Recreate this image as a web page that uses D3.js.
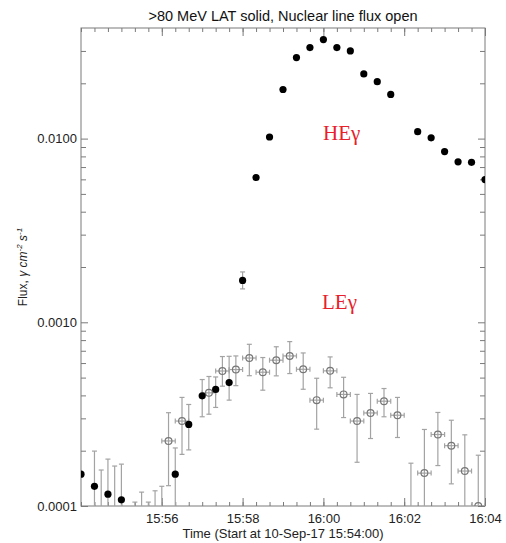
<!DOCTYPE html>
<html>
<head>
<meta charset="utf-8">
<script src="https://cdn.jsdelivr.net/npm/d3@7"></script>
<style>
  body { margin: 0; background: #fff; }
  text { font-family: "Liberation Sans", Arial, sans-serif; }
</style>
</head>
<body>
<div id="chart"></div>
<script>
// seconds after 15:54:00, >80 MeV LAT flux (solid points)
const heSec  = [0, 20, 40, 60, 80, 100, 120, 140, 160, 180, 200, 220, 240, 260, 280, 300,
                320, 340, 360, 380, 400, 420, 440, 460, 500, 520, 540, 560, 580, 600];
const heFlux = [1.49e-4, 1.28e-4, 1.16e-4, 1.08e-4, 8e-5, 8e-5, 8e-5, 1.49e-4, 2.78e-4, 3.98e-4,
                4.31e-4, 4.70e-4, 1.69e-3, 6.14e-3, 1.02e-2, 1.85e-2, 2.76e-2, 3.13e-2, 3.46e-2, 3.13e-2,
                3.00e-2, 2.25e-2, 2.04e-2, 1.74e-2, 1.09e-2, 1.01e-2, 8.5e-3, 7.47e-3, 7.43e-3, 5.98e-3];
const heLo   = [null, 5e-5, 5e-5, 5e-5, 5e-5, 5e-5, 5e-5, 5e-5, 2.02e-4, 3.06e-4,
                3.44e-4, 3.77e-4, 1.52e-3, null, null, null, null, null, null, null,
                null, null, null, null, null, null, null, null, null, null];
const heHi   = [null, 1.99e-4, 1.80e-4, 1.69e-4, 1.05e-4, 1.05e-4, 1.28e-4, 2.07e-4, 3.57e-4, 4.88e-4,
                5.04e-4, 6.53e-4, 1.88e-3, null, null, null, null, null, null, null,
                null, null, null, null, null, null, null, null, null, null];

// nuclear line flux (open points), bin centres, +/- 10 s
const leSec  = [30, 50, 90, 110, 130, 150, 190, 210, 230, 250, 270, 290, 310, 330,
                350, 370, 390, 410, 430, 450, 470, 490, 510, 530, 550, 570, 590];
const leFlux = [8e-5, 8e-5, 8e-5, 8e-5, 2.26e-4, 2.90e-4, 4.13e-4, 5.43e-4, 5.53e-4, 6.39e-4,
                5.35e-4, 6.22e-4, 6.56e-4, 5.55e-4, 3.77e-4, 5.44e-4, 4.05e-4, 2.90e-4, 3.21e-4, 3.72e-4,
                3.12e-4, 8e-5, 1.51e-4, 2.45e-4, 2.13e-4, 1.55e-4, 1.0e-4];
const leLo   = [5e-5, 5e-5, 5e-5, 5e-5, 1.29e-4, 1.91e-4, 3.16e-4, 4.49e-4, 4.52e-4, 5.12e-4,
                4.27e-4, 5.11e-4, 5.26e-4, 4.32e-4, 2.62e-4, 4.40e-4, 3.03e-4, 1.73e-4, 2.33e-4, 3.06e-4,
                2.36e-4, 5e-5, 5e-5, 1.66e-4, 1.32e-4, 5e-5, 5e-5];
const leHi   = [1.57e-4, 1.65e-4, 1.19e-4, 1.21e-4, 3.22e-4, 3.90e-4, 5.07e-4, 6.51e-4, 6.56e-4, 7.59e-4,
                6.43e-4, 7.36e-4, 7.85e-4, 6.81e-4, 4.96e-4, 6.48e-4, 5.02e-4, 4.05e-4, 4.10e-4, 4.36e-4,
                3.90e-4, 1.71e-4, 2.61e-4, 3.23e-4, 2.93e-4, 2.44e-4, 1.89e-4];
const leHalf = 10;

const majorMinutes = [2, 4, 6, 8, 10];
const yMajor = [1e-4, 1e-3, 1e-2];
const yMinor = [2e-4, 3e-4, 4e-4, 5e-4, 6e-4, 7e-4, 8e-4, 9e-4,
                2e-3, 3e-3, 4e-3, 5e-3, 6e-3, 7e-3, 8e-3, 9e-3, 2e-2, 3e-2];

let margin = { top: 28, left: 81, right: 21, bottom: 37 },
    totalW = 506, totalH = 543,
    width = totalW - margin.left - margin.right,
    height = totalH - margin.top - margin.bottom;

const start = Date.UTC(2017, 8, 10, 15, 54, 0);
const t = s => new Date(start + s * 1000);

let svg = d3.select("#chart")
  .append("svg")
    .attr("width", totalW)
    .attr("height", totalH);

let g = svg.append("g")
    .attr("transform", "translate(" + margin.left + "," + margin.top + ")");

let xScale = d3.scaleUtc().domain([t(0), t(600)]).range([0, width]);
let yScale = d3.scaleLog().domain([1e-4, 0.04]).range([height, 0]);

svg.append("defs").append("clipPath")
    .attr("id", "plotclip")
  .append("rect")
    .attr("width", width)
    .attr("height", height);

// axes, ticks pointing inward
const axisColor = "#7a7a7a";
const minorSecs = d3.range(0, 601, 20).map(t);
const majorTimes = majorMinutes.map(m => t(m * 60));

function styleAxis(sel) {
  sel.select(".domain").remove();
  sel.selectAll("line").attr("stroke", axisColor);
  sel.selectAll("text")
    .attr("fill", "#222")
    .style("font-size", "13px")
    .style("font-family", "Liberation Sans, Arial, sans-serif");
}

g.append("g")
    .attr("transform", "translate(0," + height + ")")
    .call(d3.axisBottom(xScale).tickValues(minorSecs).tickSize(-4).tickFormat(""))
    .call(styleAxis);
g.append("g")
    .attr("transform", "translate(0," + height + ")")
    .call(d3.axisBottom(xScale).tickValues(majorTimes).tickSize(-8).tickPadding(8)
      .tickFormat(d3.utcFormat("%H:%M")))
    .call(styleAxis);
g.append("g")
    .call(d3.axisTop(xScale).tickValues(minorSecs).tickSize(-4).tickFormat(""))
    .call(styleAxis);
g.append("g")
    .call(d3.axisTop(xScale).tickValues(majorTimes).tickSize(-8).tickFormat(""))
    .call(styleAxis);

g.append("g")
    .call(d3.axisLeft(yScale).tickValues(yMinor).tickSize(-5).tickFormat(""))
    .call(styleAxis);
g.append("g")
    .call(d3.axisLeft(yScale).tickValues(yMajor).tickSize(-7).tickPadding(4)
      .tickFormat(d3.format(".4f")))
    .call(styleAxis);
g.append("g")
    .attr("transform", "translate(" + width + ",0)")
    .call(d3.axisRight(yScale).tickValues(yMinor).tickSize(-5).tickFormat(""))
    .call(styleAxis);
g.append("g")
    .attr("transform", "translate(" + width + ",0)")
    .call(d3.axisRight(yScale).tickValues(yMajor).tickSize(-7).tickFormat(""))
    .call(styleAxis);

g.append("rect")
    .attr("width", width)
    .attr("height", height)
    .attr("fill", "none")
    .attr("stroke", axisColor)
    .attr("stroke-width", 1);

// data layers
let plot = g.append("g").attr("clip-path", "url(#plotclip)");

const barColor = "#a3a3a3";
const cap = 2.5;

let le = leSec.map((s, i) => ({ s: s, v: leFlux[i], lo: leLo[i], hi: leHi[i] }));
let he = heSec.map((s, i) => ({ s: s, v: heFlux[i], lo: heLo[i], hi: heHi[i] }))
  .filter(d => d.lo != null);

function vBars(sel, data) {
  let b = sel.selectAll(null).data(data).enter().append("g")
      .attr("stroke", barColor)
      .attr("stroke-width", 1.2);
  b.append("line")
      .attr("x1", d => xScale(t(d.s))).attr("x2", d => xScale(t(d.s)))
      .attr("y1", d => yScale(d.lo)).attr("y2", d => yScale(d.hi));
  b.append("line")
      .attr("x1", d => xScale(t(d.s)) - cap).attr("x2", d => xScale(t(d.s)) + cap)
      .attr("y1", d => yScale(d.hi)).attr("y2", d => yScale(d.hi));
  b.append("line")
      .attr("x1", d => xScale(t(d.s)) - cap).attr("x2", d => xScale(t(d.s)) + cap)
      .attr("y1", d => yScale(d.lo)).attr("y2", d => yScale(d.lo));
}

vBars(plot, he);
vBars(plot, le);

// horizontal bars for the line flux bins
let hb = plot.selectAll(".hbar").data(le).enter().append("g")
    .attr("class", "hbar")
    .attr("stroke", barColor)
    .attr("stroke-width", 1.2);
hb.append("line")
    .attr("x1", d => xScale(t(d.s - leHalf))).attr("x2", d => xScale(t(d.s + leHalf)))
    .attr("y1", d => yScale(d.v)).attr("y2", d => yScale(d.v));
hb.append("line")
    .attr("x1", d => xScale(t(d.s - leHalf))).attr("x2", d => xScale(t(d.s - leHalf)))
    .attr("y1", d => yScale(d.v) - cap).attr("y2", d => yScale(d.v) + cap);
hb.append("line")
    .attr("x1", d => xScale(t(d.s + leHalf))).attr("x2", d => xScale(t(d.s + leHalf)))
    .attr("y1", d => yScale(d.v) - cap).attr("y2", d => yScale(d.v) + cap);

plot.selectAll(".open").data(le).enter().append("circle")
    .attr("class", "open")
    .attr("cx", d => xScale(t(d.s)))
    .attr("cy", d => yScale(d.v))
    .attr("r", 3.4)
    .attr("fill", "none")
    .attr("stroke", "#777")
    .attr("stroke-width", 1.2);

plot.selectAll(".solid").data(heSec).enter().append("circle")
    .attr("class", "solid")
    .attr("cx", d => xScale(t(d)))
    .attr("cy", (d, i) => yScale(heFlux[i]))
    .attr("r", 3.6)
    .attr("fill", "#000");

// labels
svg.append("text")
    .attr("x", 283)
    .attr("y", 21)
    .attr("text-anchor", "middle")
    .attr("fill", "#111")
    .style("font-size", "14.5px")
    .text(">80 MeV LAT solid, Nuclear line flux open");

svg.append("text")
    .attr("x", 283)
    .attr("y", 538)
    .attr("text-anchor", "middle")
    .attr("fill", "#222")
    .style("font-size", "13px")
    .text("Time (Start at 10-Sep-17 15:54:00)");

let yl = svg.append("text")
    .attr("transform", "translate(27,267) rotate(-90)")
    .attr("text-anchor", "middle")
    .attr("fill", "#222")
    .style("font-size", "12px");
yl.append("tspan").text("Flux, ");
yl.append("tspan").style("font-style", "italic").text("\u03b3 cm");
yl.append("tspan").style("font-style", "italic").style("font-size", "8px")
    .attr("dy", -5).text("-2");
yl.append("tspan").style("font-style", "italic").attr("dy", 5).text(" s");
yl.append("tspan").style("font-style", "italic").style("font-size", "8px")
    .attr("dy", -5).text("-1");

svg.append("text")
    .attr("x", 323)
    .attr("y", 140)
    .attr("fill", "#e8202a")
    .style("font-family", "Liberation Serif, Times New Roman, serif")
    .style("font-size", "21px")
    .text("HE\u03b3");

svg.append("text")
    .attr("x", 322)
    .attr("y", 309)
    .attr("fill", "#e8202a")
    .style("font-family", "Liberation Serif, Times New Roman, serif")
    .style("font-size", "21px")
    .text("LE\u03b3");
</script>
</body>
</html>
